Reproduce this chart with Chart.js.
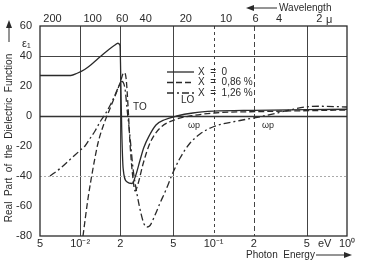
<!DOCTYPE html>
<html>
<head>
<meta charset="utf-8">
<script src="https://cdn.jsdelivr.net/npm/chart.js@4"></script>
<style>
  html, body { margin: 0; padding: 0; background: #fff; }
  #wrap { width: 368px; height: 265px; }
</style>
</head>
<body>
<div id="wrap"><canvas id="epsChart"></canvas></div>
<script>
// Photon energy (eV) and real part of dielectric function for each doping level
const energyX0 = [0.005, 0.0085, 0.0095, 0.0108, 0.012, 0.0135, 0.015, 0.0165, 0.018, 0.0192, 0.0199, 0.0202, 0.0205, 0.021, 0.0225, 0.0245, 0.026, 0.028, 0.030, 0.033, 0.037, 0.043, 0.053, 0.07, 0.1, 0.2, 0.5, 1.0];
const epsX0 = [27, 27, 28.5, 31, 34, 38, 41.5, 44.5, 47, 48.5, 47, 20, -10, -35, -44, -45, -40, -30, -21, -13, -6, -2.5, 0, 2, 3.2, 3.8, 4.2, 4.5];

const energyX086 = [0.0105, 0.01145, 0.01248, 0.01361, 0.0151, 0.01674, 0.01858, 0.0199, 0.0213, 0.0221, 0.0229, 0.0237, 0.0249, 0.0258, 0.0272, 0.0296, 0.0334, 0.0397, 0.0532, 0.0667, 0.1007, 0.239, 1.0];
const epsX086 = [-80, -55, -35, -18, -5, 5, 15, 22, 29, 25, 5, -20, -42, -50, -45, -32, -18, -8, -2, 0, 2, 3, 4];

const energyX126 = [0.00594, 0.00707, 0.0084, 0.00997, 0.01087, 0.01185, 0.01292, 0.01408, 0.01535, 0.01674, 0.01825, 0.01954, 0.0206, 0.0217, 0.02245, 0.0237, 0.0249, 0.02667, 0.02858, 0.03012, 0.0317, 0.0334, 0.0364, 0.0397, 0.0441, 0.0489, 0.0561, 0.0667, 0.0791, 0.1007, 0.158, 0.239, 0.374, 0.485, 0.628, 1.0];
const epsX126 = [-40, -35, -29, -23, -20, -15, -10, -4, 1, 7, 14, 20, 23, 18, 5, -15, -35, -52, -65, -72, -74, -73, -66, -58, -49, -39, -28, -18, -12, -7, -3, 0, 4, 6, 6.5, 6];

const seriesLabels = ['X  =  0', 'X  =  0,86 %', 'X  =  1,26 %'];

// Axis ticks
const energyTicks = [0.005, 0.01, 0.02, 0.05, 0.1, 0.2, 0.5, 1];
const energyLabels = ['5', '10\u207B\u00B2', '2', '5', '10\u207B\u00B9', '2', '5', '10\u2070'];
const wavelengthTicks = [200, 100, 60, 40, 20, 10, 6, 4, 2];
const epsTicks = [60, 40, 20, 0, -20, -40, -60, -80];

const ink = '#2a2a2a';
const dashes = [[], [6, 3], [7, 3, 2, 3]];
const fam = 'Liberation Sans, Arial, sans-serif';

const pts = (xs, ys) => xs.map((x, i) => ({ x: x, y: ys[i] }));

// gridlines, frame, tick labels and notes, placed through the scales
const gridPlugin = {
    id: 'grid',
    beforeDatasetsDraw(chart) {
        const { ctx, chartArea: a, scales } = chart;
        ctx.save();
        ctx.strokeStyle = '#444';
        ctx.lineWidth = 1;
        [[0.01, []], [0.02, []], [0.05, []], [0.1, [3, 3]], [0.2, [5, 3]], [0.5, []]].forEach(([v, d]) => {
            const px = Math.round(scales.x.getPixelForValue(v)) + 0.5;
            ctx.setLineDash(d);
            ctx.beginPath(); ctx.moveTo(px, a.top); ctx.lineTo(px, a.bottom); ctx.stroke();
        });
        [[40, [], '#444'], [0, [], '#333'], [-40, [2, 2], '#aaa']].forEach(([v, d, c]) => {
            const py = Math.round(scales.y.getPixelForValue(v)) + 0.5;
            ctx.setLineDash(d);
            ctx.strokeStyle = c;
            ctx.lineWidth = v === 0 ? 1.3 : 1;
            ctx.beginPath(); ctx.moveTo(a.left, py); ctx.lineTo(a.right, py); ctx.stroke();
        });
        ctx.setLineDash([]);
        ctx.strokeStyle = ink;
        ctx.lineWidth = 1.3;
        ctx.strokeRect(a.left, a.top, a.right - a.left, a.bottom - a.top);
        ctx.restore();
    },
    afterDraw(chart) {
        const { ctx, scales } = chart;
        ctx.save();
        ctx.fillStyle = ink;
        ctx.strokeStyle = ink;
        ctx.textBaseline = 'middle';
        // tick labels
        ctx.font = '11px ' + fam;
        ctx.textAlign = 'center';
        energyTicks.forEach((v, i) => ctx.fillText(energyLabels[i], scales.x.getPixelForValue(v), 244));
        wavelengthTicks.forEach(l => ctx.fillText(String(l), scales.x2.getPixelForValue(1.2398 / l), 19));
        ctx.textAlign = 'right';
        epsTicks.forEach(v => ctx.fillText(String(v), 32, scales.y.getPixelForValue(v)));
        ctx.textAlign = 'left';
        ctx.fillText('\u03B5\u2081', 22, 44);
        ctx.fillText('\u03BC', 326, 20);
        ctx.fillText('eV', 318, 244);
        // legend
        ctx.font = '10px ' + fam;
        seriesLabels.forEach((t, i) => {
            const y = 72 + i * 10.5;
            ctx.setLineDash(dashes[i]);
            ctx.lineWidth = 1.3;
            ctx.beginPath(); ctx.moveTo(167, y); ctx.lineTo(194, y); ctx.stroke();
            ctx.setLineDash([]);
            ctx.fillText(t, 198, y);
        });
        // annotations
        ctx.fillText('TO', 133, 107);
        ctx.fillText('LO', 181, 100);
        ctx.font = '9px ' + fam;
        ctx.fillText('\u03C9p', 188, 126);
        ctx.fillText('\u03C9p', 262, 126);
        // axis captions with arrows
        ctx.font = '10px ' + fam;
        ctx.fillText('Photon  Energy', 246, 255);
        ctx.fillText('Wavelength', 279, 8);
        ctx.lineWidth = 1;
        ctx.beginPath(); ctx.moveTo(316, 255); ctx.lineTo(348, 255); ctx.stroke();
        ctx.beginPath(); ctx.moveTo(352, 255); ctx.lineTo(344, 252); ctx.lineTo(344, 258); ctx.closePath(); ctx.fill();
        ctx.beginPath(); ctx.moveTo(250, 8); ctx.lineTo(277, 8); ctx.stroke();
        ctx.beginPath(); ctx.moveTo(246, 8); ctx.lineTo(254, 5); ctx.lineTo(254, 11); ctx.closePath(); ctx.fill();
        // y caption
        ctx.translate(9, 130);
        ctx.rotate(-Math.PI / 2);
        ctx.textAlign = 'center';
        ctx.fillText('Real  Part  of  the  Dielectric  Function', -8, 0);
        ctx.beginPath(); ctx.moveTo(88, 0); ctx.lineTo(106, 0); ctx.stroke();
        ctx.beginPath(); ctx.moveTo(110, 0); ctx.lineTo(102, -3); ctx.lineTo(102, 3); ctx.closePath(); ctx.fill();
        ctx.restore();
    }
};

document.addEventListener('DOMContentLoaded', function () {
    new Chart(document.getElementById('epsChart'), {
        type: 'line',
        data: {
            datasets: [
                { label: seriesLabels[0], data: pts(energyX0, epsX0), borderDash: dashes[0] },
                { label: seriesLabels[1], data: pts(energyX086, epsX086), borderDash: dashes[1] },
                { label: seriesLabels[2], data: pts(energyX126, epsX126), borderDash: dashes[2] }
            ].map(d => Object.assign(d, {
                borderColor: ink, borderWidth: 1.3, pointRadius: 0,
                cubicInterpolationMode: 'monotone', fill: false
            }))
        },
        options: {
            responsive: true,
            maintainAspectRatio: false,
            animation: false,
            layout: { padding: { left: 0, right: 21, top: 0, bottom: 0 } },
            plugins: { legend: { display: false }, tooltip: { enabled: false } },
            scales: {
                x: {
                    type: 'logarithmic', position: 'bottom', min: 0.005, max: 1,
                    grid: { display: false }, border: { display: false },
                    ticks: { display: false },
                    afterFit: s => { s.height = 29; }
                },
                x2: {
                    type: 'logarithmic', position: 'top', min: 0.005, max: 1,
                    grid: { display: false }, border: { display: false },
                    ticks: { display: false },
                    afterFit: s => { s.height = 26; }
                },
                y: {
                    min: -80, max: 60,
                    grid: { display: false }, border: { display: false },
                    ticks: { display: false },
                    afterFit: s => { s.width = 40; }
                }
            }
        },
        plugins: [gridPlugin]
    });
});
</script>
</body>
</html>
